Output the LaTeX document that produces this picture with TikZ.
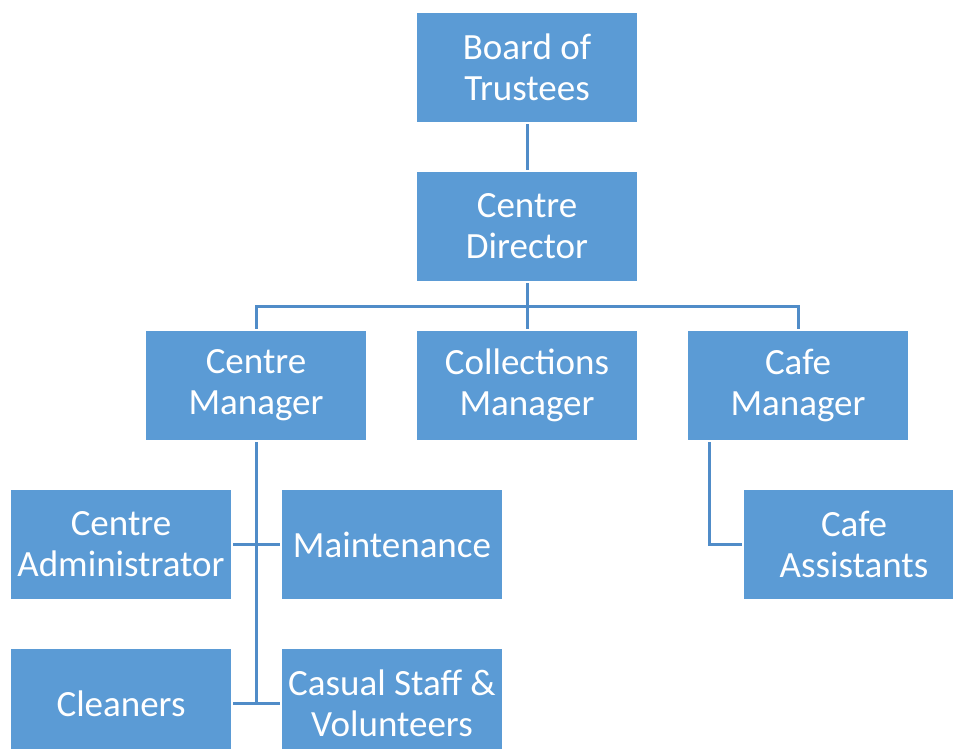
\documentclass[tikz,border=0pt]{standalone}
\usepackage{fontspec}
\setmainfont{Carlito}
\definecolor{boxblue}{HTML}{5B9BD5}
\definecolor{lineblue}{RGB}{80,140,200}
\tikzset{
    orgbox/.style={fill=boxblue, text=white, align=center, minimum width=220, minimum height=109,
        inner sep=0pt, font=\fontsize{37}{41}\selectfont},
    link/.style={draw=lineblue, line width=3, shorten <=2, shorten >=2}
}
\begin{document}
\begin{tikzpicture}[x=1pt, y=-1pt]
        \useasboundingbox (0,0) rectangle (953,749);
        \begin{scope}
        \clip (0,0) rectangle (953,749);
        \node[orgbox] (board) at (527,67.5) {Board of\\Trustees};
        \node[orgbox] (director) at (527,226.5) {Centre\\Director};
        \node[orgbox] (centremgr) at (256,385.5) {Centre\\Manager};
        \node[orgbox] (collections) at (527,385.5) {Collections\\Manager};
        \node[orgbox] (cafemgr) at (798,385.5) {Cafe\\Manager};
        \node[orgbox] (admin) at (121,544.5) {Centre\\Administrator};
        \node[orgbox] (maint) at (392,544.5) {Maintenance};
        \node[orgbox] (cleaners) at (121,703.5) {Cleaners};
        \node[orgbox] (casual) at (392,703.5) {Casual Staff \&\\Volunteers};
        \node[orgbox] (cafeasst) at (854,544.5) {Cafe\\Assistants};
        \end{scope}
        % connectors
        \draw[link] (board) -- (director);
        \draw[link] (director) -- (collections);
        \draw[link] (director.south) -- ++(0,25) -| (centremgr.north);
        \draw[link] (director.south) -- ++(0,25) -| (cafemgr.north);
        \draw[link] (centremgr.south) -- (centremgr.south |- cleaners.east);
        \draw[link] (admin.east) -- (maint.west);
        \draw[link] (cleaners.east) -- (casual.west);
        \draw[link] ([xshift=-89]cafemgr.south) |- (cafeasst.west);
    \end{tikzpicture}
\end{document}
